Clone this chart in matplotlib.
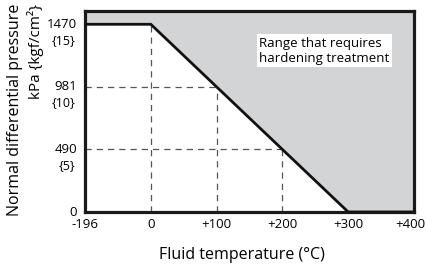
import matplotlib
matplotlib.use("Agg")
import matplotlib.pyplot as plt
import numpy as np

plt.rcParams["font.family"] = ["Open Sans", "DejaVu Sans"]

# temperature axis (the -196 tick sits on a broken scale, drawn at position -100)
temp_ticks = [-196, 0, 100, 200, 300, 400]
temp_labels = ["-196", "0", "+100", "+200", "+300", "+400"]

# pressure ticks: kPa and {kgf/cm2}
press_ticks = [0, 490, 981, 1470]
press_labels = ["0", "490", "981", "1470"]
kgf_labels = ["", "{5}", "{10}", "{15}"]

# boundary of the allowed range
boundary_temp = [-196, 0, 300, 400]
boundary_press = [1470, 1470, 0, 0]

# reading guides (temperature, pressure)
guide_temp = [0, 100, 200]
guide_press = [1470, 981, 490]


def tpos(t):
    t = np.asarray(t, dtype=float)
    return np.where(t < 0, -100.0, t)


fig = plt.figure(figsize=(4.27, 2.67), dpi=100)
ax = fig.add_axes([85 / 427, 1 - 212 / 267, (414 - 85) / 427, (212 - 10.5) / 267])

ymax = 1578
ax.set_xlim(-100, 400)
ax.set_ylim(0, ymax)

bx = tpos(boundary_temp)
ax.fill_between(bx, boundary_press, ymax, color="#d3d4d6", lw=0, zorder=0)
ax.plot(bx, boundary_press, color="#111111", lw=2.0, zorder=3,
        solid_joinstyle="miter")

for t, p in zip(guide_temp, guide_press):
    ax.plot([t, t], [0, p], color="#555555", lw=0.9, dashes=(5, 4), zorder=2)
    if p < 1470:
        ax.plot([-100, t], [p, p], color="#555555", lw=0.9, dashes=(5, 4), zorder=2)

ax.set_xticks([])
ax.set_yticks([])

# x tick labels (last one nudged left so it stays inside the picture)
for i, (x, lab) in enumerate(zip(tpos(temp_ticks), temp_labels)):
    dx = -4 if i == len(temp_labels) - 1 else 0
    ax.annotate(lab, xy=(x, 0), xycoords=ax.get_xaxis_transform(),
                xytext=(dx, -12), textcoords="offset pixels",
                ha="center", va="center", fontsize=9.5)

for p, lab, kg in zip(press_ticks, press_labels, kgf_labels):
    ax.annotate(lab, xy=(0, p), xycoords=ax.get_yaxis_transform(),
                xytext=(-8, 0), textcoords="offset pixels",
                ha="right", va="center", fontsize=9.5)
    if kg:
        ax.annotate(kg, xy=(0, p), xycoords=ax.get_yaxis_transform(),
                    xytext=(-10, -16), textcoords="offset pixels",
                    ha="right", va="center", fontsize=9)

for s in ax.spines.values():
    s.set_linewidth(2.3)
    s.set_color("#1a1a1a")

ax.text(0.53, 0.80, "Range that requires\nhardening treatment", transform=ax.transAxes,
        ha="left", va="center", fontsize=9.5, linespacing=1.15,
        bbox=dict(facecolor="white", edgecolor="none", pad=2))

fig.text(242 / 427, 1 - 255 / 267, "Fluid temperature (°C)", ha="center", va="center",
         fontsize=11.5)
fig.text(15 / 427, 1 - 4 / 267, "Normal differential pressure", rotation=90,
         ha="center", va="top", fontsize=11.5)
fig.text(36 / 427, 1 - 4 / 267, "kPa {kgf/cm²}", rotation=90,
         ha="center", va="top", fontsize=11)

fig.savefig("out.png", dpi=100)
